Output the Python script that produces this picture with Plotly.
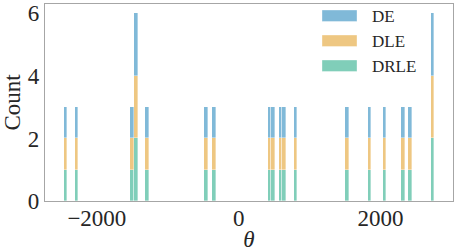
import plotly.graph_objects as go

# theta values (each method gives the same set of solutions)
theta_de = [-2468, -2302, -1508, -1465, -1465, -1305, -458, -359, 435, 487,
            596, 648, 804, 1536, 1858, 2071, 2330, 2435, 2756, 2756]
theta_dle = [-2468, -2302, -1508, -1465, -1465, -1305, -458, -359, 435, 487,
             596, 648, 804, 1536, 1858, 2071, 2330, 2435, 2756, 2756]
theta_drle = [-2468, -2302, -1508, -1465, -1465, -1305, -458, -359, 435, 487,
              596, 648, 804, 1536, 1858, 2071, 2330, 2435, 2756, 2756]
series_names = ["DE", "DLE", "DRLE"]
x_ticks = [-2000, 0, 2000]
y_ticks = [0, 2, 4, 6]

colors = ["rgba(1,115,178,0.5)", "rgba(222,143,5,0.5)", "rgba(2,158,115,0.5)"]
n_bins = 100
lo, hi = min(theta_de), max(theta_de)
start = lo - 2
end = hi + 4
size = (end - start) / n_bins
span = end - start
xr = [start - 0.05 * span, end + 0.05 * span]

fig = go.Figure()
for name, data, col in [("DRLE", theta_drle, colors[2]),
                        ("DLE", theta_dle, colors[1]),
                        ("DE", theta_de, colors[0])]:
    fig.add_trace(go.Histogram(
        x=data, name=name,
        xbins=dict(start=start, end=end, size=size),
        marker=dict(color=col, line=dict(color="rgba(255,255,255,0.6)", width=0.6)),
        showlegend=False,
    ))

font_family = "Liberation Serif"
fig.update_layout(
    width=457, height=252,
    margin=dict(l=45, r=4, t=4, b=51),
    barmode="stack", bargap=0,
    plot_bgcolor="white", paper_bgcolor="white",
    font=dict(family=font_family, size=23, color="#262626"),
    xaxis=dict(range=xr, tickvals=x_ticks, showgrid=False, zeroline=False,
               showline=True, linecolor="#a6a6a6", linewidth=1.2, mirror=True,
               ticks="", tickfont=dict(size=23, family=font_family), automargin=False,
               ticklabelstandoff=-4,
               title=dict(text="<i>θ</i>", font=dict(size=23, family=font_family), standoff=0)),
    yaxis=dict(range=[0, 6.3], tickvals=y_ticks, showgrid=False, zeroline=False,
               showline=True, linecolor="#a6a6a6", linewidth=1.2, mirror=True,
               ticks="", tickfont=dict(size=23, family=font_family), automargin=False,
               title=dict(text="Count", font=dict(size=23, family=font_family), standoff=2)),
)

# manual legend (wide patches like matplotlib)
pw, ph = 408.0, 197.0
def px(x):
    return (x - 45) / pw
def py(y):
    return (201 - y) / ph
for i, (name, col) in enumerate(zip(series_names, colors)):
    y0 = 10 + 25 * i
    fig.add_shape(type="rect", xref="paper", yref="paper",
                  x0=px(322), x1=px(357), y0=py(y0 + 11.5), y1=py(y0),
                  fillcolor=col, line=dict(color="rgba(255,255,255,0.6)", width=0.6))
    fig.add_annotation(xref="paper", yref="paper", x=px(370), y=py(y0 + 6.5),
                       text=name, showarrow=False, xanchor="left", yanchor="middle",
                       font=dict(size=17, family=font_family, color="#262626"))

fig.write_html("out.html", config={"displayModeBar": False},
               post_script="document.body.style.margin='0';document.body.style.overflow='hidden';")
